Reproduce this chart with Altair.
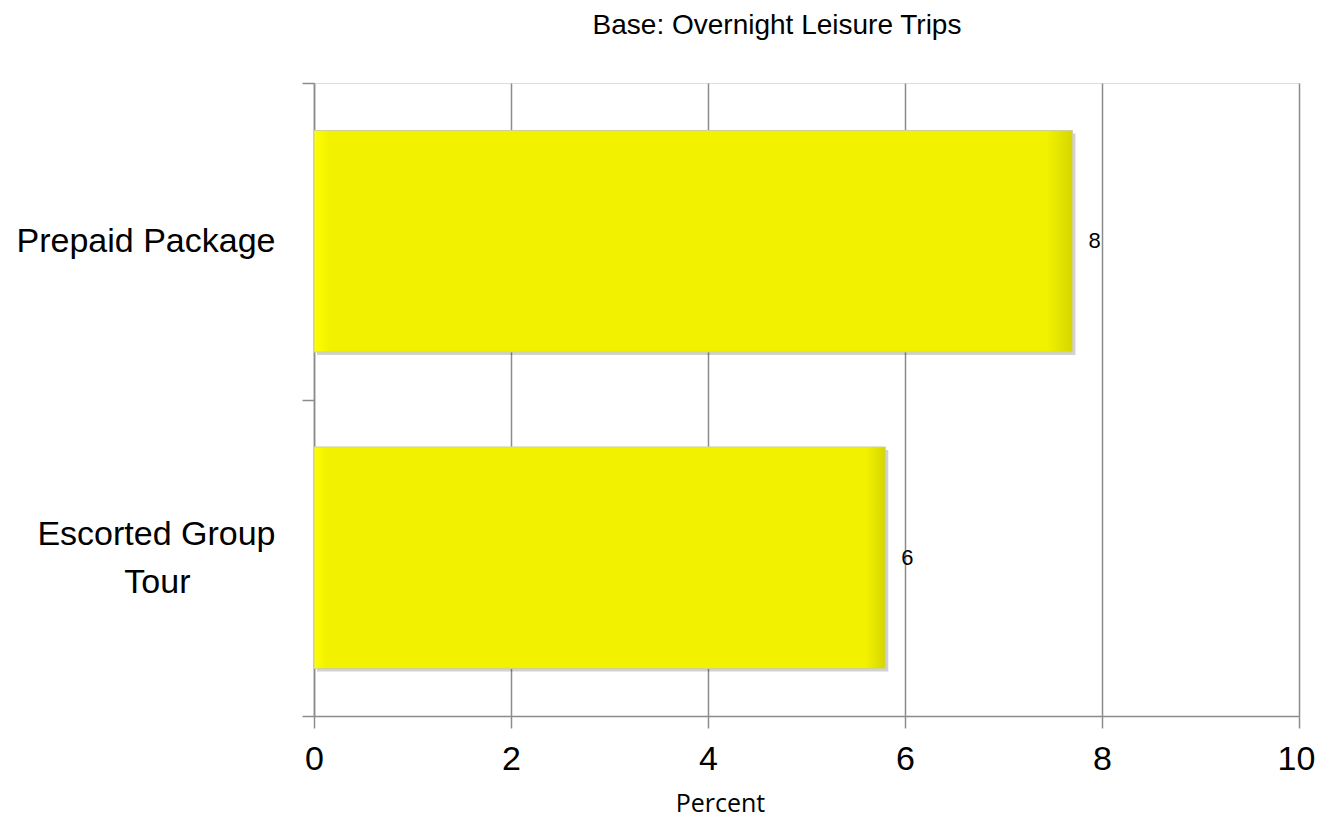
import altair as alt
import pandas as pd

title_text = ["Base: Overnight Leisure Trips"]
categories = ["Prepaid Package", "Escorted Group Tour"]
values = [7.7, 5.8]
x_ticks = [0, 2, 4, 6, 8, 10]

df = pd.DataFrame({"cat": categories, "val": values})
title_df = pd.DataFrame({"t": title_text})

gray = "#8c8c8c"
label_font = "Liberation Sans"
pad = "\\u00a0" * 9 + "\\u200b"

y_enc = alt.Y(
    "cat:N",
    sort=categories,
    scale=alt.Scale(paddingInner=0, paddingOuter=0),
    axis=alt.Axis(
        title=None,
        domainColor=gray,
        domainWidth=1.5,
        tickColor=gray,
        tickWidth=1.5,
        tickSize=12,
        tickBand="extent",
        labelFont=label_font,
        labelFontSize=34,
        labelColor="black",
        labelPadding=27,
        labelAlign="right",
        labelBaseline="middle",
        labelLineHeight=48,
        labelLimit=0,
        labelOffset=alt.expr("datum.value == 'Escorted Group Tour' ? -23 : 0"),
        labelExpr="datum.value == 'Escorted Group Tour' ? ['Escorted Group', 'Tour" + pad + "'] : datum.value",
        grid=False,
    ),
)

x_enc = alt.X(
    "val:Q",
    scale=alt.Scale(domain=[0, 10], nice=False),
    axis=alt.Axis(
        values=x_ticks,
        title="Percent",
        titleFont="Open Sans",
        titleFontSize=25,
        titleFontWeight="normal",
        titleColor="black",
        titleX=406,
        titleY=95,
        titleBaseline="alphabetic",
        titleAlign="center",
        domainColor=gray,
        domainWidth=1.5,
        tickColor=gray,
        tickWidth=1.5,
        tickSize=12,
        grid=True,
        gridColor=gray,
        gridWidth=1.5,
        labelFont=label_font,
        labelFontSize=34,
        labelColor="black",
        labelPadding=14,
        labelFlush=False,
        labelOffset=alt.expr("datum.value == 10 ? -3 : 0"),
    ),
)

grad = alt.LinearGradient(
    gradient="linear",
    stops=[
        alt.GradientStop(color="#FFFF00", offset=0),
        alt.GradientStop(color="#F2F200", offset=0.02),
        alt.GradientStop(color="#F2F200", offset=0.965),
        alt.GradientStop(color="#D6D600", offset=1),
    ],
    x1=0, x2=1, y1=0, y2=0,
)

base = alt.Chart(df)

shadow = base.mark_bar(
    color="#000000", opacity=0.18, xOffset=3, yOffset=3,
    height=alt.RelativeBandSize(0.7),
).encode(x=x_enc, y=y_enc)

bars = base.mark_bar(
    color=grad, stroke="#cfcf9a", strokeWidth=1,
    height=alt.RelativeBandSize(0.7),
).encode(x=x_enc, y=y_enc)

labels = base.mark_text(
    align="left", baseline="middle", dx=16, fontSize=22,
    font=label_font, color="black",
).encode(x=x_enc, y=y_enc, text=alt.Text("val:Q", format=".0f"))

title = alt.Chart(title_df).mark_text(
    align="center", baseline="alphabetic", fontSize=28,
    font=label_font, color="black",
).encode(x=alt.value(463), y=alt.value(-49), text="t:N")

chart = (
    alt.layer(shadow, bars, labels, title)
    .properties(
        width=985,
        height=633,
        autosize=alt.AutoSizeParams(type="none"),
        padding={"left": 306, "top": 75, "right": 17, "bottom": 102},
    )
    .configure_view(stroke=None)
    .configure(background="white")
)

chart.save("out.html", embed_options={"renderer": "svg", "actions": False})
